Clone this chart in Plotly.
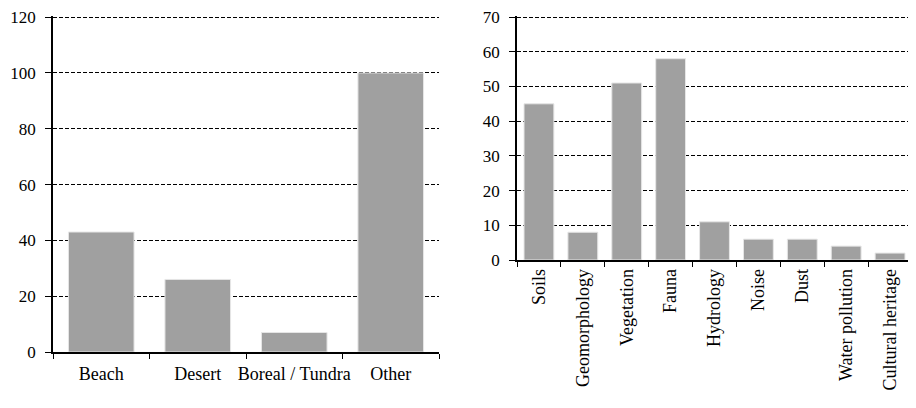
import plotly.graph_objects as go

biomes = ["Beach", "Desert", "Boreal / Tundra", "Other"]
biome_counts = [43, 26, 7, 100]

impacts = ["Soils", "Geomorphology", "Vegetation", "Fauna", "Hydrology", "Noise",
           "Dust", "Water pollution", "Cultural heritage"]
impact_counts = [45, 8, 51, 58, 11, 6, 6, 4, 2]

# page has an 8px body margin; size the figure to fit the 916x408 window
OFF = 8
W, H = 916 - OFF, 408 - OFF
BAR = "#a0a0a0"
font = dict(family="Liberation Serif, Times New Roman, serif", size=18, color="black")
yfont = dict(family="Liberation Serif, Times New Roman, serif", size=17, color="black")

fig = go.Figure()
fig.add_trace(go.Bar(x=biomes, y=biome_counts, marker=dict(color=BAR, line=dict(color="#e6e6e6", width=1)),
                     xaxis="x", yaxis="y", showlegend=False))
fig.add_trace(go.Bar(x=impacts, y=impact_counts, marker=dict(color=BAR, line=dict(color="#e6e6e6", width=1)),
                     xaxis="x2", yaxis="y2", showlegend=False))

def px_x(a):
    return (a - OFF) / W

def px_y(b):
    return (H - (b - OFF)) / H

yax = dict(showline=True, linecolor="black", linewidth=1.5, ticks="outside", ticklen=6,
           tickcolor="black", showgrid=True, gridcolor="black", griddash="4px,2px", gridwidth=1.3,
           zeroline=False, tickfont=yfont, automargin=False, ticklabelstandoff=6,
           ticklabeloverflow="allow")
xax = dict(showline=True, linecolor="black", linewidth=1.5, ticks="outside", ticklen=5,
           tickcolor="black", tickson="boundaries", showgrid=False, zeroline=False, tickfont=font,
           automargin=False, ticklabeloverflow="allow")

fig.update_layout(
    width=W, height=H,
    margin=dict(l=0, r=0, t=0, b=0),
    paper_bgcolor="white", plot_bgcolor="white",
    bargap=0.32,
    font=font,
    xaxis=dict(domain=[px_x(53), px_x(439)], anchor="y", tickangle=0, ticklabelstandoff=5, **xax),
    yaxis=dict(domain=[px_y(352), px_y(16)], anchor="x", range=[0, 120.4], tickvals=[0, 20, 40, 60, 80, 100, 120], **yax),
    xaxis2=dict(domain=[px_x(517), px_x(912)], anchor="y2", tickangle=-90, **xax),
    yaxis2=dict(domain=[px_y(260), px_y(16)], anchor="x2", range=[0, 70.3], tickvals=[0, 10, 20, 30, 40, 50, 60, 70], **yax),
)

fig.write_html("out.html")
